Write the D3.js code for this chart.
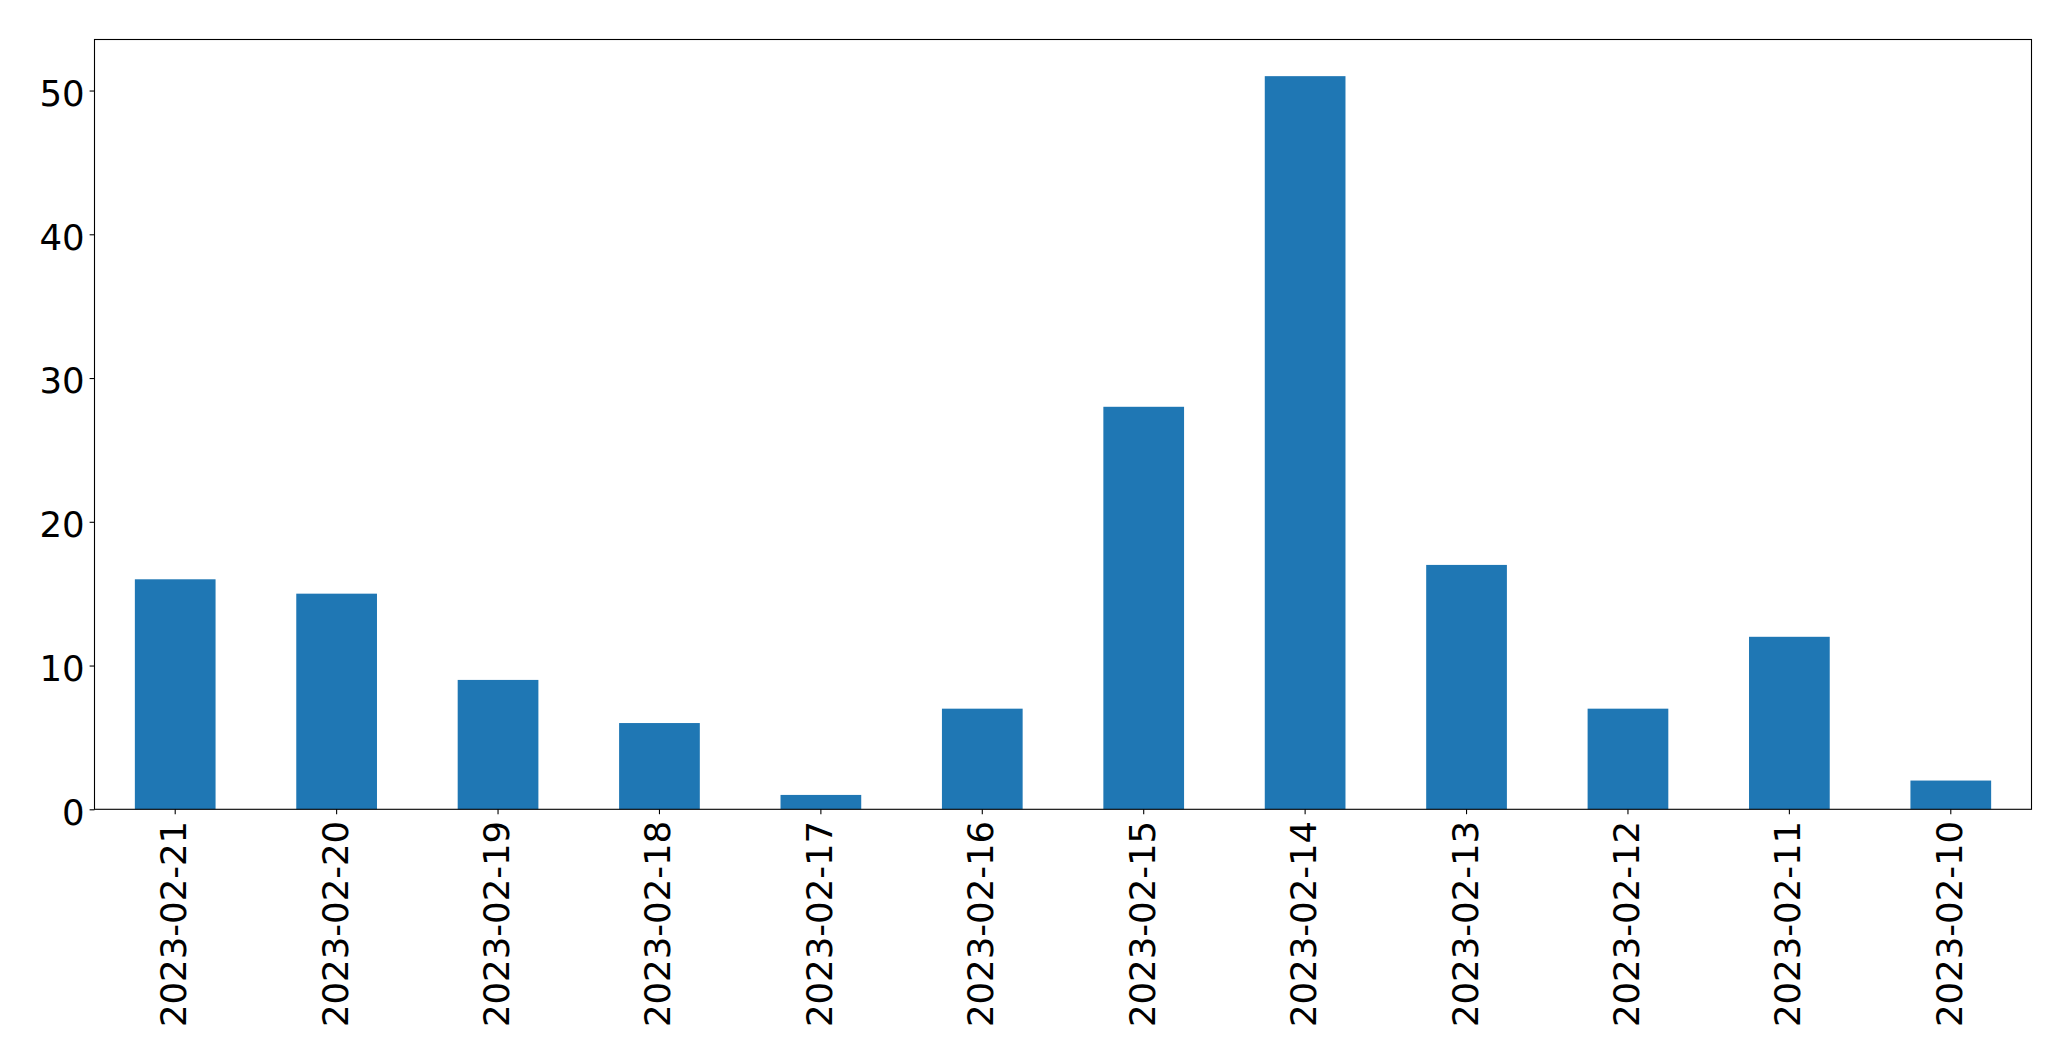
<!DOCTYPE html>
<html>
<head>
<meta charset="utf-8">
<script src="https://cdn.jsdelivr.net/npm/d3@7"></script>
<style>
  html, body { margin: 0; padding: 0; background: #fff; }
  svg { display: block; }
  text { font-family: "DejaVu Sans", sans-serif; fill: #000; }
</style>
</head>
<body>
<svg id="chart" width="2071" height="1061"></svg>
<script>
const categories = ["2023-02-21","2023-02-20","2023-02-19","2023-02-18","2023-02-17","2023-02-16","2023-02-15","2023-02-14","2023-02-13","2023-02-12","2023-02-11","2023-02-10"];
const values = [16, 15, 9, 6, 1, 7, 28, 51, 17, 7, 12, 2];
const yTicks = [0, 10, 20, 30, 40, 50];

const W = 2071, H = 1061;
const m = { left: 94.5, right: W - 2031.5, top: 39.5, bottom: H - 809.3 };
const svg = d3.select("#chart");
const fontSize = 35.5;

const x = d3.scaleBand().domain(categories).range([m.left, W - m.right]).paddingInner(0.5).paddingOuter(0.25);
const y = d3.scaleLinear().domain([0, d3.max(values) * 1.05]).range([H - m.bottom, m.top]);

svg.append("g").selectAll("rect").data(values).join("rect")
  .attr("x", (d, i) => x(categories[i]))
  .attr("width", x.bandwidth())
  .attr("y", d => y(d))
  .attr("height", d => y(0) - y(d))
  .attr("fill", "#1f77b4");

// y axis
const yAxis = svg.append("g").attr("transform", `translate(${m.left},0)`)
  .call(d3.axisLeft(y).tickValues(yTicks).tickSize(4.9).tickPadding(5).tickFormat(d3.format("d")));
yAxis.select(".domain").remove();
yAxis.selectAll("line").attr("stroke", "#000").attr("stroke-width", 1.1);
yAxis.selectAll("text").attr("font-size", fontSize).attr("font-family", "DejaVu Sans").attr("dy", "0.42em");

// x axis
const xAxis = svg.append("g").attr("transform", `translate(0,${H - m.bottom})`)
  .call(d3.axisBottom(x).tickSize(4.9).tickPadding(0));
xAxis.select(".domain").remove();
xAxis.selectAll("line").attr("stroke", "#000").attr("stroke-width", 1.1);
xAxis.selectAll("text")
  .attr("font-size", fontSize).attr("font-family", "DejaVu Sans")
  .attr("text-anchor", "end")
  .attr("transform", "translate(0,11.5) rotate(-90)")
  .attr("x", 0).attr("y", 0).attr("dy", "0.31em");

// frame
svg.append("rect")
  .attr("x", m.left).attr("y", m.top)
  .attr("width", W - m.right - m.left).attr("height", H - m.bottom - m.top)
  .attr("fill", "none").attr("stroke", "#000").attr("stroke-width", 1.1);
</script>
</body>
</html>
